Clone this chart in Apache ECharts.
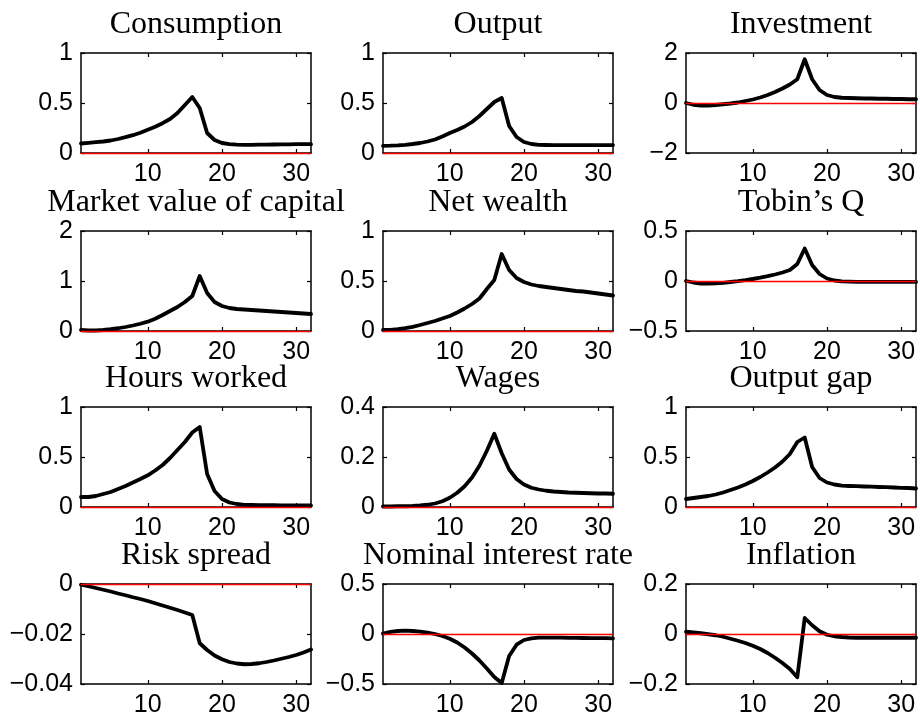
<!DOCTYPE html>
<html>
<head>
<meta charset="utf-8">
<script src="https://cdn.jsdelivr.net/npm/echarts@6/dist/echarts.min.js"></script>
<style>
  html, body { margin: 0; padding: 0; background: #fff; }
  #chart { width: 920px; height: 724px; }
</style>
</head>
<body>
<div id="chart"></div>
<script>
// ---- data ----
const periods = [1,2,3,4,5,6,7,8,9,10,11,12,13,14,15,16,17,18,19,20,21,22,23,24,25,26,27,28,29,30,31,32];
const xTickValues = [10, 20, 30];

const titles = ["Consumption", "Output", "Investment",
                "Market value of capital", "Net wealth", "Tobin\u2019s Q",
                "Hours worked", "Wages", "Output gap",
                "Risk spread", "Nominal interest rate", "Inflation"];

const consumption = [0.095,0.102,0.108,0.115,0.125,0.140,0.158,0.178,0.202,0.232,0.263,0.298,0.340,0.400,0.480,0.560,0.450,0.200,0.130,0.100,0.088,0.083,0.082,0.082,0.083,0.084,0.085,0.086,0.087,0.088,0.088,0.088];
const output = [0.072,0.073,0.076,0.082,0.090,0.100,0.115,0.135,0.165,0.200,0.230,0.265,0.310,0.370,0.440,0.510,0.550,0.270,0.160,0.110,0.090,0.082,0.080,0.079,0.079,0.079,0.079,0.079,0.079,0.079,0.079,0.079];
const investment = [0.00,-0.07,-0.10,-0.10,-0.08,-0.05,-0.02,0.02,0.08,0.14,0.22,0.32,0.44,0.58,0.74,0.95,1.75,0.95,0.52,0.32,0.24,0.21,0.20,0.19,0.18,0.18,0.17,0.17,0.16,0.16,0.15,0.15];
const marketValue = [0.02,0.01,0.01,0.02,0.035,0.055,0.08,0.11,0.145,0.186,0.245,0.32,0.40,0.48,0.58,0.70,1.10,0.76,0.58,0.50,0.46,0.44,0.43,0.42,0.41,0.40,0.39,0.38,0.37,0.36,0.35,0.34];
const netWealth = [0.010,0.012,0.018,0.028,0.042,0.060,0.080,0.100,0.125,0.150,0.185,0.225,0.270,0.325,0.420,0.510,0.770,0.610,0.530,0.490,0.465,0.450,0.440,0.430,0.420,0.410,0.400,0.395,0.385,0.375,0.365,0.355];
const tobinsQ = [0.000,-0.015,-0.025,-0.027,-0.024,-0.018,-0.010,-0.002,0.008,0.020,0.033,0.048,0.065,0.085,0.110,0.170,0.325,0.160,0.070,0.025,0.005,-0.003,-0.006,-0.008,-0.009,-0.009,-0.009,-0.009,-0.009,-0.009,-0.009,-0.009];
const hoursWorked = [0.100,0.100,0.110,0.130,0.150,0.180,0.210,0.245,0.280,0.317,0.365,0.420,0.490,0.570,0.650,0.745,0.800,0.330,0.160,0.080,0.045,0.030,0.022,0.020,0.019,0.018,0.018,0.017,0.017,0.017,0.017,0.016];
const wages = [0.002,0.002,0.003,0.003,0.004,0.006,0.009,0.014,0.023,0.037,0.057,0.083,0.118,0.165,0.225,0.293,0.215,0.150,0.112,0.090,0.077,0.070,0.065,0.062,0.060,0.058,0.057,0.056,0.055,0.054,0.054,0.053];
const outputGap = [0.080,0.090,0.100,0.110,0.125,0.145,0.170,0.195,0.225,0.260,0.300,0.345,0.395,0.455,0.530,0.650,0.695,0.400,0.290,0.245,0.225,0.213,0.210,0.208,0.205,0.203,0.200,0.198,0.195,0.192,0.190,0.185];
const riskSpread = [-0.0003,-0.0009,-0.0016,-0.0023,-0.0030,-0.0038,-0.0045,-0.0053,-0.0060,-0.0068,-0.0077,-0.0086,-0.0095,-0.0104,-0.0114,-0.0124,-0.0237,-0.0264,-0.0286,-0.0301,-0.0312,-0.0318,-0.0321,-0.0320,-0.0317,-0.0312,-0.0306,-0.0299,-0.0292,-0.0284,-0.0274,-0.0262];
const nominalRate = [0.005,0.022,0.030,0.033,0.030,0.023,0.013,0.000,-0.020,-0.047,-0.085,-0.135,-0.195,-0.265,-0.345,-0.430,-0.490,-0.220,-0.107,-0.060,-0.043,-0.037,-0.036,-0.036,-0.037,-0.038,-0.039,-0.040,-0.041,-0.042,-0.042,-0.043];
const inflation = [0.009,0.006,0.003,-0.001,-0.005,-0.011,-0.019,-0.027,-0.036,-0.047,-0.060,-0.076,-0.095,-0.116,-0.140,-0.173,0.064,0.035,0.011,-0.003,-0.009,-0.012,-0.014,-0.015,-0.015,-0.015,-0.015,-0.015,-0.015,-0.015,-0.015,-0.015];

// y tick labels per panel
const consumptionTicks = [0, 0.5, 1];
const outputTicks = [0, 0.5, 1];
const investmentTicks = [-2, 0, 2];
const marketValueTicks = [0, 1, 2];
const netWealthTicks = [0, 0.5, 1];
const tobinsQTicks = [-0.5, 0, 0.5];
const hoursWorkedTicks = [0, 0.5, 1];
const wagesTicks = [0, 0.2, 0.4];
const outputGapTicks = [0, 0.5, 1];
const riskSpreadTicks = [-0.04, -0.02, 0];
const nominalRateTicks = [-0.5, 0, 0.5];
const inflationTicks = [-0.2, 0, 0.2];

const seriesList = [consumption, output, investment, marketValue, netWealth, tobinsQ,
                    hoursWorked, wages, outputGap, riskSpread, nominalRate, inflation];
const tickList = [consumptionTicks, outputTicks, investmentTicks, marketValueTicks, netWealthTicks, tobinsQTicks,
                  hoursWorkedTicks, wagesTicks, outputGapTicks, riskSpreadTicks, nominalRateTicks, inflationTicks];

// ---- layout ----
const colLeft = [81, 383, 686];
const rowTop = [53, 231, 407, 584];
const boxW = 230, boxH = 100;
const labelFont = "'Liberation Sans', Arial, Helvetica, sans-serif";
const titleFont = "'Liberation Serif', 'DejaVu Serif', serif";

const fmt = v => String(v).replace('-', '\u2212');

const grids = [], xAxes = [], yAxes = [], series = [], graphics = [];
const axisLineStyle = { color: '#000', width: 1.5 };
const tickStyle = { color: '#000', width: 1.2 };

for (let i = 0; i < 12; i++) {
  const r = Math.floor(i / 3), c = i % 3;
  const ticks = tickList[i];
  grids.push({ left: colLeft[c], top: rowTop[r], width: boxW, height: boxH, containLabel: false });
  const xBase = {
    gridIndex: i, type: 'value', min: 1, max: 32,
    axisLine: { show: true, onZero: false, lineStyle: axisLineStyle },
    axisTick: { show: true, inside: true, length: 4, customValues: xTickValues, lineStyle: tickStyle },
    splitLine: { show: false }
  };
  xAxes.push(Object.assign({}, xBase, {
    position: 'bottom',
    axisLabel: { show: true, customValues: xTickValues, fontSize: 25, color: '#000', fontFamily: labelFont, margin: 9 }
  }));
  xAxes.push(Object.assign({}, xBase, { position: 'top', axisLabel: { show: false } }));
  const yBase = {
    gridIndex: i, type: 'value', min: ticks[0], max: ticks[ticks.length - 1],
    axisLine: { show: true, onZero: false, lineStyle: axisLineStyle },
    axisTick: { show: true, inside: true, length: 4, customValues: ticks, lineStyle: tickStyle },
    splitLine: { show: false }
  };
  yAxes.push(Object.assign({}, yBase, {
    position: 'left',
    axisLabel: { show: true, customValues: ticks, fontSize: 25, color: '#000', fontFamily: labelFont, margin: 8,
                 showMinLabel: true, showMaxLabel: true, formatter: fmt }
  }));
  yAxes.push(Object.assign({}, yBase, { position: 'right', axisLabel: { show: false } }));

  series.push({
    type: 'line', xAxisIndex: 2 * i, yAxisIndex: 2 * i,
    data: periods.map((t, k) => [t, seriesList[i][k]]),
    showSymbol: false, symbol: 'none', silent: true,
    lineStyle: { color: '#000', width: 3.8, join: 'round', cap: 'round' },
    markLine: {
      silent: true, symbol: 'none', animation: false,
      label: { show: false },
      lineStyle: { color: '#ff0000', width: 1.3, type: 'solid' },
      data: [{ yAxis: 0 }]
    }
  });

  graphics.push({
    x: colLeft[c] + boxW / 2, y: rowTop[r] - 28,
    style: { text: titles[i], font: "32px " + titleFont, fill: '#000',
             textAlign: 'center', textVerticalAlign: 'middle' }
  });
}

const chart = echarts.init(document.getElementById('chart'), null, { renderer: 'canvas' });
chart.setOption({
  animation: false,
  backgroundColor: '#fff',
  grid: grids,
  xAxis: xAxes,
  yAxis: yAxes,
  series: series,
  graphic: graphics.map(g => ({ type: 'text', x: g.x, y: g.y, style: g.style }))
});
</script>
</body>
</html>
